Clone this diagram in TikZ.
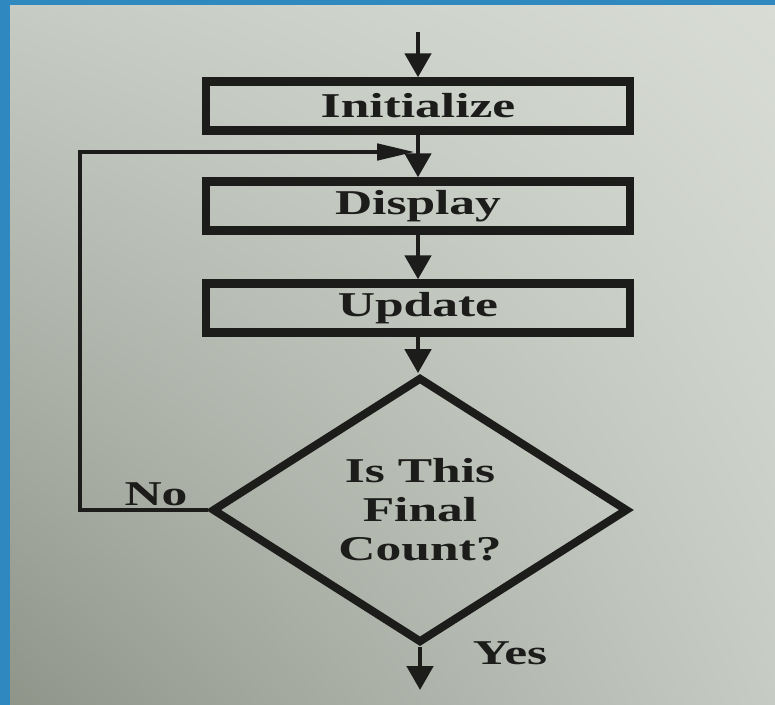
\documentclass[tikz,border=0pt]{standalone}
\usepackage{fontspec}
\setmainfont{Liberation Serif}[FakeStretch=1.48]
\usetikzlibrary{shapes.geometric,arrows.meta,shadings}
\definecolor{paperlight}{RGB}{216,220,212}
\definecolor{papermid}{RGB}{198,204,196}
\definecolor{paperdark}{RGB}{142,148,136}
\definecolor{frameblue}{RGB}{48,136,192}
\definecolor{inkblack}{RGB}{28,28,26}
\begin{document}
\begin{tikzpicture}[x=0.5pt, y=-0.5pt,
    stepbox/.style={draw=inkblack, line width=4.2pt, minimum width=212pt, minimum height=24.5pt, inner sep=0pt, font=\fontsize{17.4}{19.5}\selectfont\bfseries, text=inkblack},
    testbox/.style={shape=diamond, draw=inkblack, line width=4pt, minimum width=208pt, minimum height=120pt, inner sep=0pt, align=center, font=\fontsize{17.4}{19.5}\selectfont\bfseries, text=inkblack},
    lbl/.style={font=\fontsize{17.4}{19.5}\selectfont\bfseries, text=inkblack, inner sep=0pt},
    flow/.style={draw=inkblack, line width=2.4pt},
    vtip/.style={-{Triangle[length=12pt, width=13pt]}},
    htip/.style={-{Triangle[length=19pt, width=8pt]}}
]

\useasboundingbox (0,0) rectangle (775,705);
\shade[upper left=papermid, upper right=paperlight, lower left=paperdark, lower right=papermid] (0,0) rectangle (775,705);
\fill[frameblue] (0,0) rectangle (10,705);
\fill[frameblue] (0,0) rectangle (775,5);

\coordinate (start) at (418,32);
\node[stepbox] (init) at (418,106) {Initialize};
\coordinate (join) at (415,152);
\coordinate (loop) at (80,152);
\node[stepbox] (disp) at (418,206) {Display};
\node[stepbox] (upd) at (418,308) {Update};
\node[testbox] (test) at (420,510) {Is This\\Final\\Count?};
\coordinate (stop) at (420,690);

\node[lbl] (no) at (156,494) {No};
\node[lbl] (yes) at (510,653) {Yes};

\draw[flow, vtip] (start) -- (init);
\draw[flow, vtip] (init) -- (disp);
\draw[flow, vtip] (disp) -- (upd);
\draw[flow, vtip] (upd.south) -- (upd.south |- test.north);
\draw[flow, vtip] (test) -- (stop);
\draw[flow, htip] (test.west) -| (loop) -- (join);

\end{tikzpicture}
\end{document}
